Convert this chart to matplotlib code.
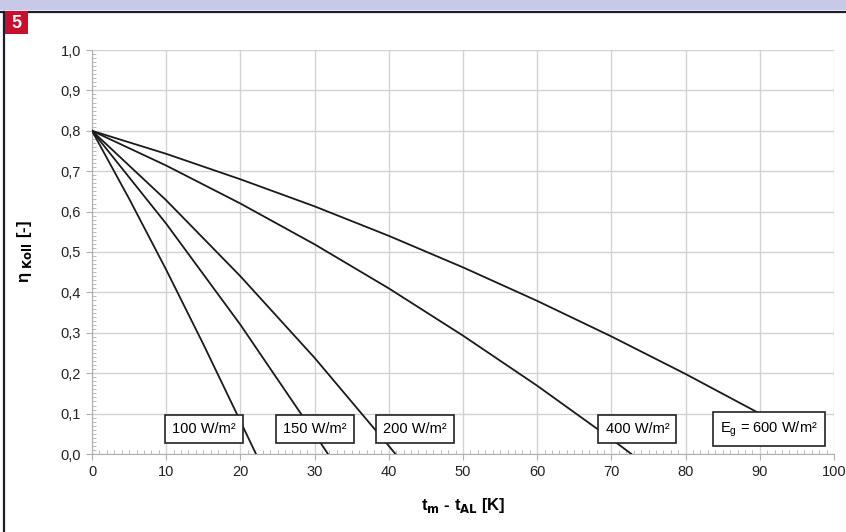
import matplotlib.pyplot as plt
from matplotlib.ticker import MultipleLocator, FuncFormatter
from matplotlib.patches import Rectangle

plt.rcParams['font.family'] = ['Liberation Sans', 'DejaVu Sans']

# temperature difference tm - tAL [K] and collector efficiency
dt_100 = [0, 5, 10, 15, 20, 22.1]
eta_100 = [0.80, 0.632, 0.456, 0.272, 0.081, 0.0]

dt_150 = [0, 10, 20, 30, 31.8]
eta_150 = [0.80, 0.570, 0.320, 0.050, 0.0]

dt_200 = [0, 10, 20, 30, 40, 40.9]
eta_200 = [0.80, 0.628, 0.440, 0.238, 0.020, 0.0]

dt_400 = [0, 10, 20, 30, 40, 50, 60, 70, 72.7]
eta_400 = [0.80, 0.714, 0.620, 0.519, 0.410, 0.293, 0.169, 0.037, 0.0]

dt_600 = [0, 10, 20, 30, 40, 50, 60, 70, 80, 90]
eta_600 = [0.80, 0.743, 0.680, 0.613, 0.540, 0.462, 0.379, 0.291, 0.198, 0.100]

labels = ["100 W/m²", "150 W/m²", "200 W/m²", "400 W/m²", "E$_\\mathregular{g}$ = 600 W/m²"]
label_x = [15.1, 30.0, 43.5, 73.5, 91.2]
label_y = 0.062

fig = plt.figure(figsize=(8.46, 5.32), dpi=100)

# page decoration: top band, frame lines, number tag
fig.patches.append(Rectangle((0, 1 - 10 / 532), 1, 10 / 532, transform=fig.transFigure,
                             facecolor="#c6cae8", edgecolor="none", zorder=0))
fig.add_artist(plt.Line2D([0, 1], [1 - 11.5 / 532] * 2, transform=fig.transFigure,
                          color="#1c1c2c", lw=1.6))
fig.add_artist(plt.Line2D([3.5 / 846] * 2, [0, 1 - 11.5 / 532], transform=fig.transFigure,
                          color="#1c1c2c", lw=1.6))
fig.patches.append(Rectangle((5 / 846, 1 - 34 / 532), 23 / 846, 23 / 532, transform=fig.transFigure,
                             facecolor="#c8102e", edgecolor="none", zorder=2))
fig.text(16.5 / 846, 1 - 23.5 / 532, "5", color="white", fontsize=13, fontweight="bold",
         ha="center", va="center", zorder=3)

ax = fig.add_axes([92 / 846, 1 - 454 / 532, 742 / 846, 404 / 532])

for xs, ys in [(dt_100, eta_100), (dt_150, eta_150), (dt_200, eta_200),
               (dt_400, eta_400), (dt_600, eta_600)]:
    ax.plot(xs, ys, color="#1a1a1a", lw=1.3, zorder=3)

for txt, x in zip(labels, label_x):
    ax.text(x, label_y, txt, fontsize=10.5, ha="center", va="center", zorder=4,
            bbox=dict(boxstyle="square,pad=0.5", facecolor="white", edgecolor="#222222", lw=1.2))

ax.set_xlim(0, 100)
ax.set_ylim(0, 1.0)
ax.xaxis.set_major_locator(MultipleLocator(10))
ax.yaxis.set_major_locator(MultipleLocator(0.1))
ax.xaxis.set_minor_locator(MultipleLocator(1))
ax.yaxis.set_minor_locator(MultipleLocator(0.01))
ax.yaxis.set_major_formatter(FuncFormatter(lambda v, p: f"{v:.1f}".replace(".", ",")))

ax.grid(True, which="major", color="#d2d2d2", lw=1)
ax.set_axisbelow(True)
for s in ["top", "right"]:
    ax.spines[s].set_visible(False)
for s in ["left", "bottom"]:
    ax.spines[s].set_color("#b0b0b0")
ax.tick_params(which="major", direction="out", length=4, color="#b0b0b0",
               labelsize=10.5, labelcolor="#222222", pad=4)
ax.tick_params(which="minor", direction="in", length=3, color="#b0b0b0")

ax.set_xlabel("t$_\\mathbf{m}$ - t$_\\mathbf{AL}$ [K]", fontsize=12, fontweight="bold", labelpad=12)
ax.set_ylabel("η $_\\mathbf{Koll}$ [-]", fontsize=12, fontweight="bold", labelpad=19)

fig.savefig("out.png", dpi=100)
plt.close(fig)
